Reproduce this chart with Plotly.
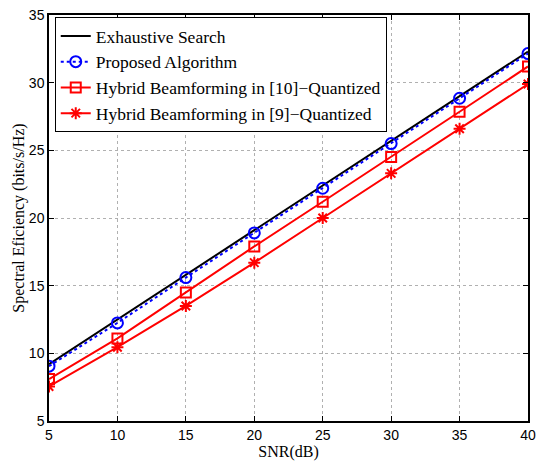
import plotly.graph_objects as go

snr = [5, 10, 15, 20, 25, 30, 35, 40]
exhaustive = [9.2, 12.5, 15.8, 19.1, 22.4, 25.7, 29.0, 32.3]
proposed = [9.05, 12.25, 15.6, 18.9, 22.2, 25.5, 28.85, 32.15]
hybrid10 = [8.1, 11.1, 14.5, 17.9, 21.2, 24.5, 27.85, 31.2]
hybrid9 = [7.55, 10.45, 13.5, 16.7, 20.0, 23.3, 26.6, 29.9]

fig = go.Figure()
fig.add_trace(go.Scatter(x=snr, y=exhaustive, name="Exhaustive Search", mode="lines",
                         line=dict(color="black", width=2)))
fig.add_trace(go.Scatter(x=snr, y=proposed, name="Proposed Algorithm", mode="lines+markers",
                         line=dict(color="blue", width=2, dash="dot"),
                         marker=dict(symbol="circle-open", size=11, color="blue", line=dict(width=2))))
fig.add_trace(go.Scatter(x=snr, y=hybrid10, name="Hybrid Beamforming in [10]\u2212Quantized", mode="lines+markers",
                         line=dict(color="red", width=2),
                         marker=dict(symbol="square-open", size=10, color="red", line=dict(width=2))))
fig.add_trace(go.Scatter(x=snr, y=hybrid9, name="Hybrid Beamforming in [9]\u2212Quantized", mode="lines+markers",
                         line=dict(color="red", width=2),
                         marker=dict(symbol="asterisk-open", size=10, color="red", line=dict(width=2))))

axis_common = dict(showline=True, linecolor="black", linewidth=1.5, mirror="allticks",
                   ticks="inside", ticklen=5, tickcolor="black",
                   showgrid=True, gridcolor="#b0b0b0", griddash="dot", gridwidth=1,
                   zeroline=False, tickfont=dict(family="Liberation Sans", size=14, color="black"))

fig.update_layout(
    width=543, height=461,
    margin=dict(l=49, r=13, t=7, b=37),
    paper_bgcolor="white", plot_bgcolor="white",
    xaxis=dict(range=[5, 40], tickvals=[5, 10, 15, 20, 25, 30, 35, 40],
               title=dict(text="SNR(dB)", font=dict(family="Liberation Serif", size=16, color="black"), standoff=0),
               **axis_common),
    yaxis=dict(range=[5, 35], tickvals=[5, 10, 15, 20, 25, 30, 35],
               title=dict(text="Spectral Eficiency (bits/s/Hz)", font=dict(family="Liberation Serif", size=16, color="black"), standoff=0),
               **axis_common),
    legend=dict(x=0.012, y=0.995, xanchor="left", yanchor="top",
                bgcolor="white", bordercolor="black", borderwidth=1,
                font=dict(family="Liberation Serif", size=17.5, color="black"),
                itemwidth=30, tracegroupgap=0),
    showlegend=True,
)

fig.write_html("out.html")
